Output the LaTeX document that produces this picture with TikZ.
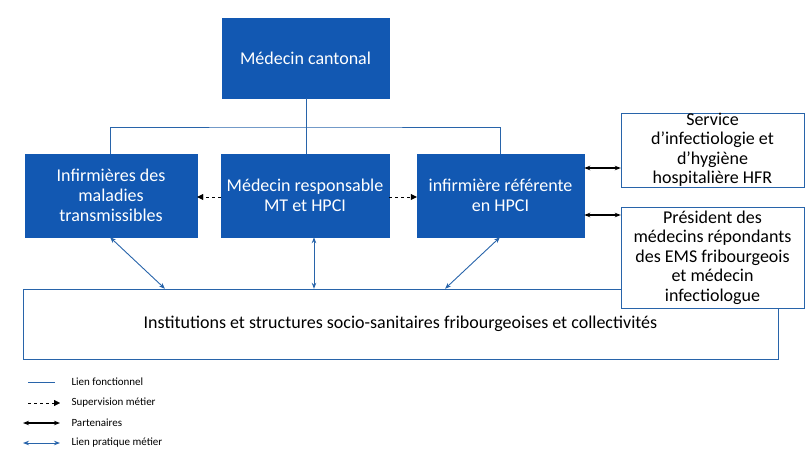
\documentclass[tikz,border=0pt]{standalone}
\usepackage{fontspec}
\setmainfont{Carlito}
\usetikzlibrary{arrows.meta}
\definecolor{bb}{RGB}{18,88,178}
\definecolor{ln}{RGB}{40,100,170}
\begin{document}
\begin{tikzpicture}[x=1pt,y=-1pt,
  blue box/.style={draw=bb,fill=bb,text=white,align=center,font=\fontsize{18}{20}\selectfont,inner sep=0pt},
  white box/.style={draw=ln,fill=white,align=center,font=\fontsize{18}{19.5}\selectfont,inner sep=0pt},
  func/.style={draw=ln,line width=0.8pt},
  sup/.style={draw=black,dashed,-{Triangle[length=6pt,width=6pt]}},
  part/.style={draw=black,line width=1.2pt,{Stealth[length=6pt]}-{Stealth[length=6pt]}},
  prat/.style={draw=ln,line width=0.9pt,{Stealth[length=6pt]}-{Stealth[length=6pt]}},
  leg/.style={anchor=west,font=\fontsize{11}{12}\selectfont}]
\useasboundingbox (0,0) rectangle (809,474);
\node[blue box,minimum width=167,minimum height=80] (mc) at (305.5,58) {Médecin cantonal};
\node[blue box,minimum width=172,minimum height=83] (inf) at (111,195.5) {Infirmières des\\maladies\\transmissibles};
\node[blue box,minimum width=168,minimum height=83] (mr) at (305,195.5) {Médecin responsable\\MT et HPCI};
\node[blue box,minimum width=167,minimum height=83] (ir) at (500.5,195.5) {infirmière référente\\en HPCI};
\node[white box,minimum width=755,minimum height=70] (inst) at (400.5,324) {Institutions et structures socio-sanitaires fribourgeoises et collectivités};
\node[white box,minimum width=183,minimum height=74] (svc) at (712.5,150) {Service\\d’infectiologie et\\d’hygiène\\hospitalière HFR};
\node[white box,minimum width=183,minimum height=101] (pres) at (712.5,257.5) {Président des\\médecins répondants\\des EMS fribourgeois\\et médecin\\infectiologue};
\coordinate (j) at (306,127);
\draw[func] (mc.south -| j) -- (j);
\draw[func] (inf.north -| 110,0) |- (j) -| (ir.north -| 500,0);
\draw[func] (j) -- (mr.north -| j);
\draw[sup] (mr.west |- 0,197) -- (inf.east |- 0,197);
\draw[sup] (mr.east |- 0,197) -- (ir.west |- 0,197);
\draw[part] (ir.east |- 0,168) -- (svc.west |- 0,168);
\draw[part] (ir.east |- 0,215) -- (pres.west |- 0,215);
\draw[prat] (inf.south -| 110,0) -- (inst.north -| 165,0);
\draw[prat] (mr.south -| 314,0) -- (inst.north -| 314,0);
\draw[prat] (ir.south -| 500,0) -- (inst.north -| 445,0);
\coordinate (l1a) at (28,382); \coordinate (l1b) at (55,382);
\coordinate (l2a) at (28,403); \coordinate (l2b) at (60,403);
\coordinate (l3a) at (23,423); \coordinate (l3b) at (60,423);
\coordinate (l4a) at (23,443); \coordinate (l4b) at (60,443);
\draw[func] (l1a) -- (l1b);
\draw[sup] (l2a) -- (l2b);
\draw[part] (l3a) -- (l3b);
\draw[prat] (l4a) -- (l4b);
\node[leg] (t1) at (68,382) {Lien fonctionnel};
\node[leg] (t2) at (68,403) {Supervision métier};
\node[leg] (t3) at (68,423) {Partenaires};
\node[leg] (t4) at (68,443) {Lien pratique métier};
\end{tikzpicture}
\end{document}
